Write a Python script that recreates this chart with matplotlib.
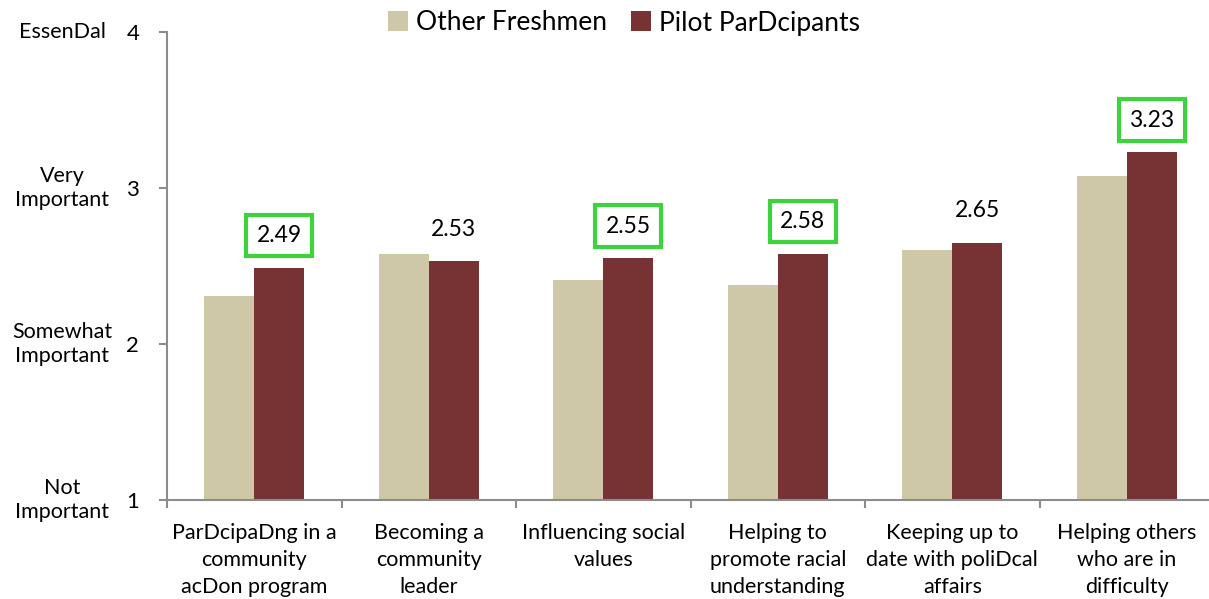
import matplotlib
matplotlib.use("Agg")
import matplotlib.pyplot as plt
import matplotlib.transforms as mtransforms
from matplotlib.patches import Patch
import numpy as np

plt.rcParams['font.family'] = ['Lato', 'DejaVu Sans']

categories = [
    "ParDcipaDng in a\ncommunity\nacDon program",
    "Becoming a\ncommunity\nleader",
    "Influencing social\nvalues",
    "Helping to\npromote racial\nunderstanding",
    "Keeping up to\ndate with poliDcal\naffairs",
    "Helping others\nwho are in\ndifficulty",
]
other_freshmen = [2.31, 2.58, 2.41, 2.38, 2.60, 3.08]
pilot = [2.49, 2.53, 2.55, 2.58, 2.65, 3.23]
boxed = [True, False, True, True, False, True]

scale_ticks = [1, 2, 3, 4]
scale_names = ["Not\nImportant", "Somewhat\nImportant", "Very\nImportant", "EssenDal"]

beige = "#CEC8A8"
maroon = "#773333"
green = "#3CD33C"
axis_gray = "#8C8C8C"

fig = plt.figure(figsize=(12.09, 5.99), dpi=100)
ax = fig.add_axes([167 / 1209, 99 / 599, (1214 - 167) / 1209, (500 - 32) / 599])

x = np.arange(len(categories))
w = 0.286
ax.bar(x - w / 2, other_freshmen, w, color=beige, zorder=2)
ax.bar(x + w / 2, pilot, w, color=maroon, zorder=2)

ax.set_xlim(-0.5, len(categories) - 0.5)
ax.set_ylim(1, 4)

# value labels over the pilot bars, some of them framed in green
for xi, v, b in zip(x, pilot, boxed):
    kw = {}
    if b:
        kw['bbox'] = dict(boxstyle="square,pad=0.45", fc="white", ec=green, lw=3)
    ax.annotate(f"{v:.2f}", (xi + w / 2, v), xytext=(0, 23), textcoords="offset points",
                ha="center", va="center", fontsize=16.5, color="black", **kw)

for s in ["top", "right"]:
    ax.spines[s].set_visible(False)
for s in ["left", "bottom"]:
    ax.spines[s].set_color(axis_gray)
    ax.spines[s].set_linewidth(1.5)

ax.set_yticks(scale_ticks)
ax.set_yticklabels([str(t) for t in scale_ticks], fontsize=16)
ax.tick_params(axis="y", length=6, width=1.5, color=axis_gray, pad=14)

ax.set_xticks(x)
ax.set_xticklabels(categories, fontsize=15.5, linespacing=1.45)
ax.tick_params(axis="x", which="major", length=0, pad=16.5)
ax.set_xticks(np.arange(len(categories) + 1) - 0.5, minor=True)
ax.tick_params(axis="x", which="minor", length=6, width=1.5, color=axis_gray)

trans = mtransforms.blended_transform_factory(fig.transFigure, ax.transData)
for t, name in zip(scale_ticks, scale_names):
    ax.text(62 / 1209, t, name, transform=trans, ha="center", va="center",
            fontsize=15.5, linespacing=1.3)

handles = [Patch(facecolor=beige), Patch(facecolor=maroon)]
fig.legend(handles, ["Other Freshmen", "Pilot ParDcipants"], loc="center",
           bbox_to_anchor=(624 / 1209, 1 - 23 / 599), ncol=2, frameon=False,
           fontsize=19, handlelength=0.75, handleheight=0.8, handletextpad=0.3,
           columnspacing=0.9, borderpad=0)

fig.savefig("out.png", dpi=100)
